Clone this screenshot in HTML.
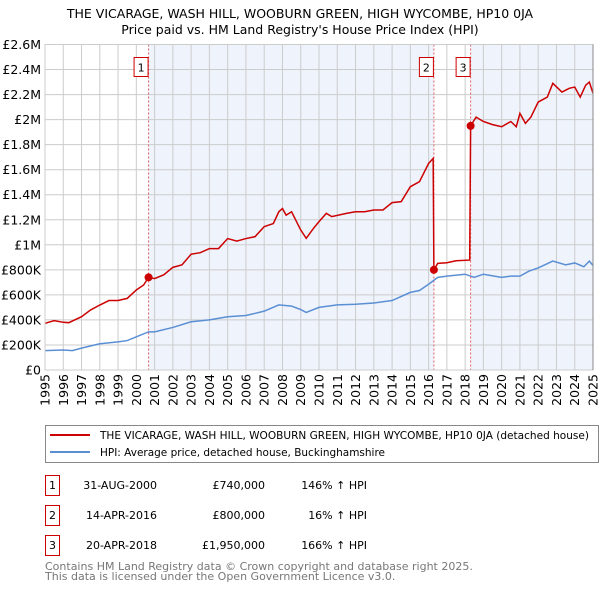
<!DOCTYPE html>
<html><head><meta charset="utf-8"><style>
body{margin:0;background:#fff;width:600px;height:590px;overflow:hidden;font-family:"DejaVu Sans","Liberation Sans",sans-serif}
svg{display:block}
</style></head><body>
<svg id="chart" width="600" height="590" xmlns="http://www.w3.org/2000/svg">
<text x="300" y="18" text-anchor="middle" font-size="12.5">THE VICARAGE, WASH HILL, WOOBURN GREEN, HIGH WYCOMBE, HP10 0JA</text>
<text x="300" y="34" text-anchor="middle" font-size="12.5">Price paid vs. HM Land Registry's House Price Index (HPI)</text>
<g id="plot"></g>
<g>
<rect x="45.5" y="425.5" width="553" height="37" fill="#fff" stroke="#888"/>
<line x1="50" y1="435" x2="90" y2="435" stroke="#cc0000" stroke-width="2"/>
<text x="100" y="439" font-size="11" textLength="489" lengthAdjust="spacingAndGlyphs">THE VICARAGE, WASH HILL, WOOBURN GREEN, HIGH WYCOMBE, HP10 0JA (detached house)</text>
<line x1="50" y1="452" x2="90" y2="452" stroke="#5b8fd4" stroke-width="2"/>
<text x="100" y="456" font-size="11" textLength="285" lengthAdjust="spacingAndGlyphs">HPI: Average price, detached house, Buckinghamshire</text>
</g>
<g font-size="11">
<rect x="45.5" y="475.5" width="14" height="20" fill="#fff" stroke="#cc0000"/><text x="52.5" y="489" text-anchor="middle">1</text>
<text x="157" y="489" text-anchor="end">31-AUG-2000</text>
<text x="265" y="489" text-anchor="end">£740,000</text>
<text x="367" y="489" text-anchor="end">146% ↑ HPI</text>
<rect x="45.5" y="505.5" width="14" height="20" fill="#fff" stroke="#cc0000"/><text x="52.5" y="519" text-anchor="middle">2</text>
<text x="157" y="519" text-anchor="end">14-APR-2016</text>
<text x="265" y="519" text-anchor="end">£800,000</text>
<text x="367" y="519" text-anchor="end">16% ↑ HPI</text>
<rect x="45.5" y="535.5" width="14" height="20" fill="#fff" stroke="#cc0000"/><text x="52.5" y="549" text-anchor="middle">3</text>
<text x="157" y="549" text-anchor="end">20-APR-2018</text>
<text x="265" y="549" text-anchor="end">£1,950,000</text>
<text x="367" y="549" text-anchor="end">166% ↑ HPI</text>
</g>
<text font-size="11" fill="#777"><tspan x="45" y="570">Contains HM Land Registry data © Crown copyright and database right 2025.</tspan><tspan x="45" y="580">This data is licensed under the Open Government Licence v3.0.</tspan></text>
</svg>
<script>
const yTicks=[0,200000,400000,600000,800000,1000000,1200000,1400000,1600000,1800000,2000000,2200000,2400000,2600000];
const yTickLabels=["£0","£200K","£400K","£600K","£800K","£1M","£1.2M","£1.4M","£1.6M","£1.8M","£2M","£2.2M","£2.4M","£2.6M"];
const xYears=[1995,1996,1997,1998,1999,2000,2001,2002,2003,2004,2005,2006,2007,2008,2009,2010,2011,2012,2013,2014,2015,2016,2017,2018,2019,2020,2021,2022,2023,2024,2025];
const hpiT=[1995,1996,1996.5,1997,1998,1999,1999.5,2000,2000.67,2001,2002,2003,2004,2005,2006,2007,2007.8,2008.5,2009,2009.3,2010,2011,2012,2013,2014,2015,2015.5,2016,2016.5,2017,2018,2018.5,2019,2020,2020.5,2021,2021.5,2022,2022.8,2023.5,2024,2024.5,2024.8,2025];
const hpiV=[155000,160000,155000,175000,210000,225000,235000,265000,305000,305000,340000,385000,400000,425000,435000,470000,520000,510000,483000,460000,500000,520000,525000,535000,555000,620000,635000,685000,740000,750000,765000,740000,765000,740000,750000,750000,790000,815000,870000,840000,855000,825000,870000,835000];
const propT=[1995,1995.5,1996,1996.3,1997,1997.5,1998,1998.5,1999,1999.5,2000,2000.4,2000.67,2001,2001.5,2002,2002.5,2003,2003.5,2004,2004.5,2005,2005.5,2006,2006.5,2007,2007.5,2007.8,2008,2008.2,2008.5,2009,2009.3,2009.7,2010,2010.4,2010.7,2011.5,2012,2012.5,2013,2013.5,2014,2014.5,2015,2015.5,2016,2016.25,2016.29,2016.5,2017,2017.5,2018.25,2018.3,2018.6,2019,2019.5,2020,2020.5,2020.8,2021,2021.3,2021.6,2022,2022.5,2022.8,2023.3,2023.7,2024,2024.3,2024.6,2024.8,2025];
const propV=[373000,394000,381000,378000,426000,480000,519000,555000,555000,572000,639000,679000,740000,730000,760000,820000,840000,925000,937000,970000,970000,1050000,1030000,1050000,1065000,1145000,1170000,1264000,1290000,1237000,1264000,1118000,1052000,1132000,1185000,1251000,1225000,1251000,1264000,1264000,1278000,1278000,1337000,1345000,1464000,1504000,1650000,1690000,800000,852000,857000,873000,878000,1950000,2020000,1985000,1960000,1943000,1985000,1943000,2050000,1970000,2020000,2140000,2180000,2290000,2220000,2250000,2260000,2180000,2275000,2300000,2210000];
const saleT=[2000.67,2016.29,2018.3];
const saleV=[740000,800000,1950000];
const saleLabels=["1","2","3"];

const X0=45,X1=593,Y0=370,Y1=44.5;
const xs=t=>X0+(t-1995)/(2025-1995)*(X1-X0);
const ys=v=>Y0-v/2600000*(Y0-Y1);
const NS="http://www.w3.org/2000/svg";
const plot=document.getElementById('plot');
function mk(tag,attrs,parent){const e=document.createElementNS(NS,tag);for(const k in attrs)e.setAttribute(k,attrs[k]);(parent||plot).appendChild(e);return e;}

const bg=mk('rect',{x:X0,y:Y1,width:X1-X0,height:Y0-Y1,fill:'#fff'});


const sh1=mk('rect',{x:xs(saleT[0]),y:Y1,width:xs(saleT[1])-xs(saleT[0]),height:Y0-Y1,fill:'#eef3fc'});


const sh2=mk('rect',{x:xs(saleT[2]),y:Y1,width:X1-xs(saleT[2]),height:Y0-Y1,fill:'#eef3fc'});



yTicks.forEach((v,i)=>{
  const l=mk('line',{x1:X0,x2:X1,y1:ys(v),y2:ys(v),stroke:'#ccc','stroke-width':1});
  
  
  const t=mk('text',{x:X0-4,y:ys(v)+4.5,'text-anchor':'end','font-size':12.5});
  
  
  t.textContent=yTickLabels[i];
});
xYears.forEach(y=>{
  const l=mk('line',{x1:xs(y),x2:xs(y),y1:Y1,y2:Y0,stroke:'#ccc','stroke-width':1});
  
  
  const px=xs(y)+4.5, py=Y0+4;
  const t=mk('text',{x:px,y:py,'text-anchor':'end','font-size':12.5,transform:'rotate(-90 '+px+' '+py+')'});
  
  
  t.textContent=y;
});
saleT.forEach((t,i)=>{
  const l=mk('line',{x1:xs(t),x2:xs(t),y1:Y1,y2:Y0,stroke:'#e06060','stroke-width':1,'stroke-dasharray':'2,2'});
  
  
});
const hp=mk('polyline',{points:hpiT.map((t,i)=>xs(t)+','+ys(hpiV[i])).join(' '),fill:'none',stroke:'#5b8fd4','stroke-width':1.5});


const pp=mk('polyline',{points:propT.map((t,i)=>xs(t)+','+ys(propV[i])).join(' '),fill:'none',stroke:'#cc0000','stroke-width':1.5});


saleT.forEach((t,i)=>{
  const c=mk('circle',{cx:xs(t),cy:ys(saleV[i]),r:4,fill:'#cc0000'});
  
  
  const b=mk('rect',{x:xs(t)-14.5,y:57.5,width:14,height:19,fill:'#fff',stroke:'#cc0000'});
  
  
  const tx=mk('text',{x:xs(t)-7.5,y:71.5,'text-anchor':'middle','font-size':11});
  
  
  tx.textContent=saleLabels[i];
});
const ax=mk('rect',{x:X0,y:Y1,width:X1-X0,height:Y0-Y1,fill:'none',stroke:'#ccc'});


const rx=mk('line',{x1:X1,x2:X1,y1:Y1,y2:Y0,stroke:'#888'});


</script>
</body></html>
